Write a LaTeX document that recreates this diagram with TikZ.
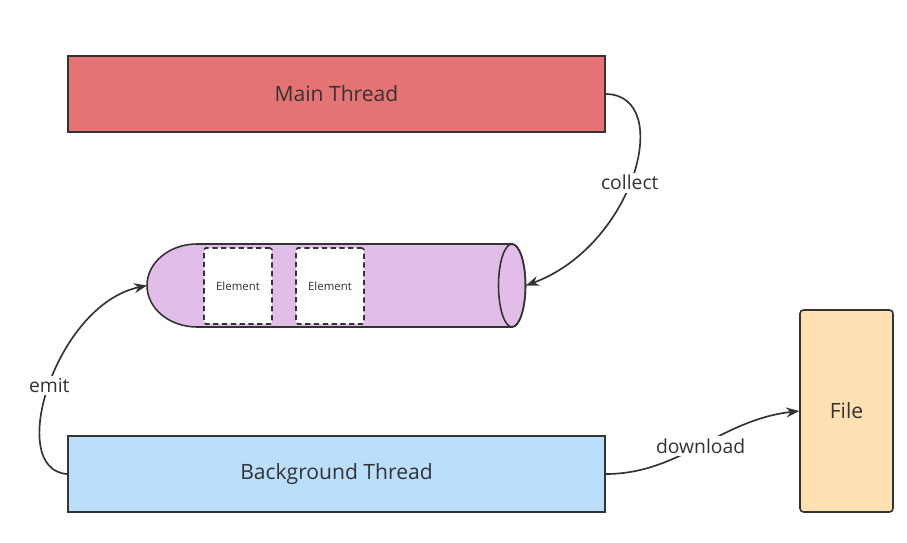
\documentclass[tikz,border=0pt]{standalone}
\usepackage{fontspec}
\setsansfont{Open Sans}
\usepackage{xcolor}
\usetikzlibrary{arrows.meta,positioning}
\definecolor{mainc}{HTML}{E57373}
\definecolor{chanc}{HTML}{E1BEE7}
\definecolor{bgc}{HTML}{BBDEFB}
\definecolor{filec}{HTML}{FFE0B2}
\definecolor{ink}{HTML}{333333}
\tikzset{
  thr/.style={draw=ink,fill=#1,line width=0.9pt,minimum width=10.74cm,minimum height=1.52cm,
              font=\sffamily\fontsize{12}{14}\selectfont,text=ink},
  elem/.style={draw=ink,fill=white,dashed,dash pattern=on 3pt off 2pt,line width=0.9pt,rounded corners=1pt,
               minimum width=1.36cm,minimum height=1.52cm,font=\sffamily\fontsize{6.5}{8}\selectfont,text=ink},
  flow/.style={-{Stealth[length=2.6mm,width=2mm]},line width=0.95pt,draw=ink},
  lbl/.style={font=\sffamily\fontsize{11}{13}\selectfont,text=ink,fill=white,inner sep=1.5pt},
}
\begin{document}
\begin{tikzpicture}[x=0.02cm,y=-0.02cm]
  \useasboundingbox (0,0) rectangle (907,542);
  \node[thr=mainc] (mt) at (336.5,94) {Main Thread};
  \node[thr=bgc] (bt) at (336.5,474) {Background Thread};
  \node[draw=ink,fill=filec,line width=0.9pt,rounded corners=2pt,minimum width=1.86cm,minimum height=4.04cm,
        font=\sffamily\fontsize{12}{14}\selectfont,text=ink] (file) at (846.5,411) {File};
  % channel
  \draw[fill=chanc,draw=ink,line width=0.9pt] (512,244) -- (197,244)
     arc[start angle=90,end angle=270,x radius=1cm,y radius=0.83cm] -- (512,327)
     arc[start angle=-90,end angle=90,x radius=0.27cm,y radius=0.83cm] -- cycle;
  \draw[draw=ink,line width=0.9pt] (512,285.5) ellipse [x radius=0.27cm,y radius=0.83cm];
  \coordinate (chl) at (147,285.5);
  \coordinate (chr) at (526,285.5);
  \node[elem] (e1) at (238,286) {Element};
  \node[elem] (e2) at (330,286) {Element};
  \draw[flow] (mt.east) .. controls (675,95) and (635,245) .. node[lbl,pos=0.53] {collect} (chr);
  \draw[flow] (bt.west) .. controls (5,470) and (55,305) .. node[lbl,pos=0.5] {emit} (chl);
  \draw[flow] (bt.east) .. controls (680,474) and (720,420) .. node[lbl,pos=0.5] {download} (file.west);
\end{tikzpicture}
\end{document}
